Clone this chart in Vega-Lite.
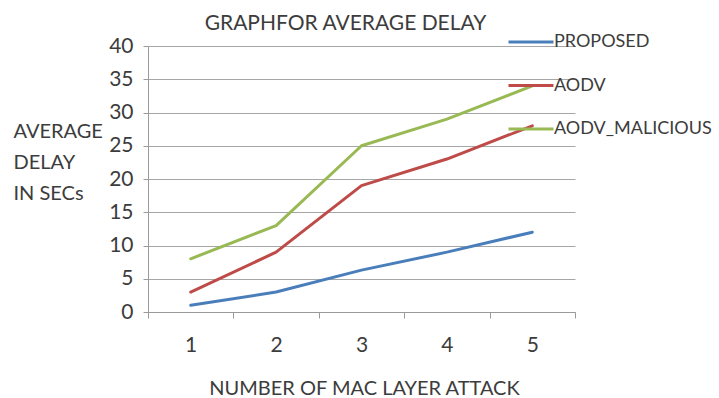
{
  "$schema": "https://vega.github.io/schema/vega-lite/v6.json",
  "width": 427,
  "height": 266,
  "autosize": {"type": "none"},
  "padding": {"left": 148, "top": 46, "right": 144, "bottom": 86},
  "background": "white",
  "title": {
    "text": "GRAPHFOR AVERAGE DELAY",
    "font": "Lato",
    "fontSize": 21,
    "fontWeight": "normal",
    "color": "#3c3c3c",
    "anchor": "middle",
    "frame": "group",
    "baseline": "alphabetic",
    "offset": -33,
    "dx": -16
  },
  "data": {
    "values": [
      {"attacks": "1", "series": "PROPOSED", "delay": 1},
      {"attacks": "2", "series": "PROPOSED", "delay": 3},
      {"attacks": "3", "series": "PROPOSED", "delay": 6.3},
      {"attacks": "4", "series": "PROPOSED", "delay": 9},
      {"attacks": "5", "series": "PROPOSED", "delay": 12},
      {"attacks": "1", "series": "AODV", "delay": 3},
      {"attacks": "2", "series": "AODV", "delay": 9},
      {"attacks": "3", "series": "AODV", "delay": 19},
      {"attacks": "4", "series": "AODV", "delay": 23},
      {"attacks": "5", "series": "AODV", "delay": 28},
      {"attacks": "1", "series": "AODV_MALICIOUS", "delay": 8},
      {"attacks": "2", "series": "AODV_MALICIOUS", "delay": 13},
      {"attacks": "3", "series": "AODV_MALICIOUS", "delay": 25},
      {"attacks": "4", "series": "AODV_MALICIOUS", "delay": 29},
      {"attacks": "5", "series": "AODV_MALICIOUS", "delay": 34}
    ]
  },
  "mark": {"type": "line", "strokeWidth": 3, "strokeCap": "round", "strokeJoin": "round"},
  "encoding": {
    "x": {
      "field": "attacks",
      "type": "ordinal",
      "sort": ["1", "2", "3", "4", "5"],
      "scale": {"type": "band", "paddingInner": 0, "paddingOuter": 0},
      "axis": {
        "title": "NUMBER OF MAC LAYER ATTACK",
        "titleFont": "Lato",
        "titleFontSize": 20,
        "titleFontWeight": "normal",
        "titleColor": "#3c3c3c",
        "titleBaseline": "alphabetic",
        "titleY": 82,
        "titleX": 216,
        "labelAngle": 0,
        "labelFont": "Lato",
        "labelFontSize": 21,
        "labelColor": "#3c3c3c",
        "labelBaseline": "top",
        "labelPadding": 16,
        "tickBand": "extent",
        "tickSize": 6,
        "tickColor": "#9a9a9a",
        "domainColor": "#9a9a9a",
        "grid": false
      }
    },
    "y": {
      "field": "delay",
      "type": "quantitative",
      "scale": {"domain": [0, 40], "nice": false},
      "axis": {
        "values": [0, 5, 10, 15, 20, 25, 30, 35, 40],
        "title": ["AVERAGE", "DELAY", "IN SECs"],
        "titleFont": "Lato",
        "titleFontSize": 20,
        "titleFontWeight": "normal",
        "titleColor": "#3c3c3c",
        "titleAngle": 0,
        "titleAlign": "left",
        "titleBaseline": "alphabetic",
        "titleLineHeight": 31,
        "titleX": -135,
        "titleY": 91,
        "labelFont": "Lato",
        "labelFontSize": 21,
        "labelColor": "#3c3c3c",
        "labelPadding": 10,
        "tickSize": 5,
        "tickColor": "#9a9a9a",
        "domainColor": "#9a9a9a",
        "grid": true,
        "gridColor": "#a6a6a6",
        "gridWidth": 1
      }
    },
    "color": {
      "field": "series",
      "type": "nominal",
      "scale": {
        "domain": ["PROPOSED", "AODV", "AODV_MALICIOUS"],
        "range": ["#4a7ebb", "#be4b48", "#98b954"]
      },
      "legend": {
        "title": null,
        "orient": "none",
        "legendX": 359,
        "legendY": -28,
        "symbolType": "stroke",
        "symbolSize": 2025,
        "symbolStrokeWidth": 3,
        "labelFont": "Lato",
        "labelFontSize": 18,
        "labelColor": "#3c3c3c",
        "labelOffset": -1,
        "labelLimit": 300,
        "rowPadding": 10.5,
        "padding": 0
      }
    }
  },
  "config": {
    "view": {"stroke": null}
  }
}
